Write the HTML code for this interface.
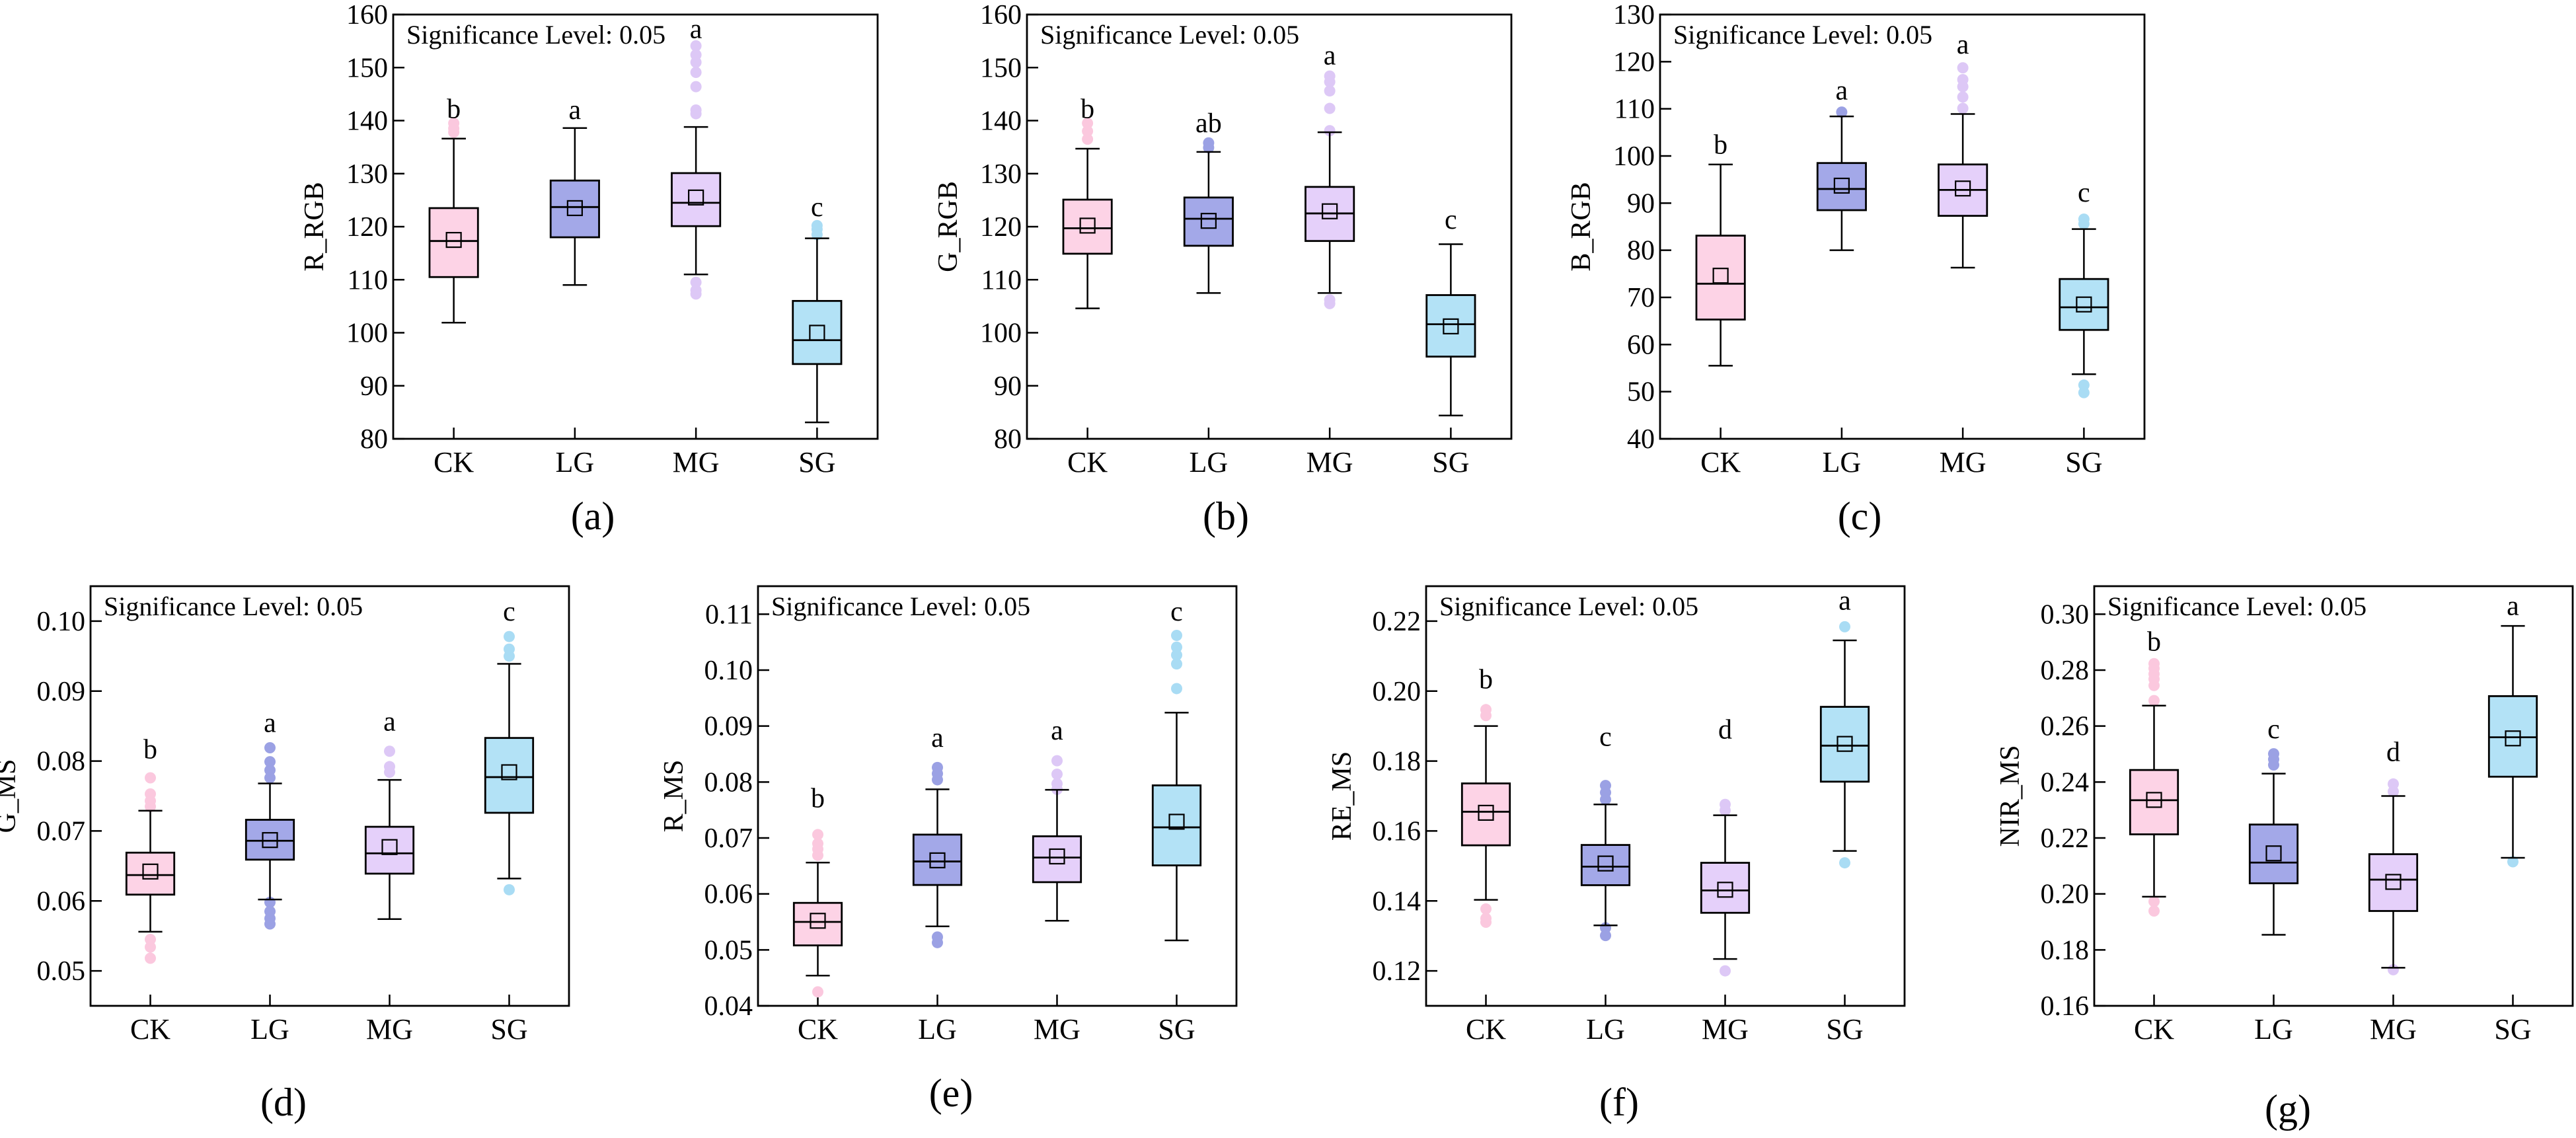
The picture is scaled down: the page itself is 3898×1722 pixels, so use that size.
<!DOCTYPE html>
<html><head><meta charset="utf-8"><style>
html,body{margin:0;padding:0;background:#fff;}
svg{display:block;font-family:"Liberation Serif",serif;}
</style></head><body>
<svg id="fig" width="3898" height="1722" viewBox="0 0 3898 1722" xmlns="http://www.w3.org/2000/svg"></svg>
<script>
const categories = ["CK","LG","MG","SG"];
// Panel a: R_RGB
const a_high=[136.6,138.6,138.8,117.8], a_q3=[123.5,128.7,130.1,106], a_med=[117.3,123.7,124.5,98.6], a_q1=[110.5,118,120.1,94.1], a_low=[101.9,109,111,83.1], a_mean=[117.5,123.5,125.5,100];
const a_out=[[139.5,138.5,137.8],[],[154.1,152.4,151,149.1,146.4,142,141.3,109.5,108,107.3],[120.2,119.5,118.5]];
const a_let=["b","a","a","c"], a_letY=[142,141.8,157.1,123.5];
// Panel b: G_RGB
const b_high=[134.7,134.1,137.8,116.7], b_q3=[125.1,125.5,127.5,107.1], b_med=[119.7,121.5,122.5,101.6], b_q1=[114.9,116.4,117.3,95.5], b_low=[104.6,107.5,107.5,84.4], b_mean=[120.2,121.1,122.9,101.2];
const b_out=[[139.5,138,136.5],[135.8,134.9],[148.4,147.3,145.6,142.3,138.1,106.2,105.5],[]];
const b_let=["b","ab","a","c"], b_letY=[142,139.3,152.1,121.1];
// Panel c: B_RGB
const c_high=[98.2,108.4,108.9,84.5], c_q3=[83.1,98.5,98.2,73.9], c_med=[72.9,93,92.8,67.9], c_q1=[65.3,88.5,87.3,63.1], c_low=[55.5,80,76.3,53.7], c_mean=[74.6,93.7,93.1,68.5];
const c_out=[[],[109.3],[118.7,116.2,114.7,112.5,110.1],[86.6,85.6,51.4,49.8]];
const c_let=["b","a","a","c"], c_letY=[102.2,113.7,123.4,92];
// Panel d: G_MS
const d_high=[0.0729,0.0768,0.0773,0.0939], d_q3=[0.0669,0.0716,0.0706,0.0833], d_med=[0.0637,0.0686,0.0668,0.0777], d_q1=[0.0609,0.0659,0.0639,0.0726], d_low=[0.0556,0.0602,0.0574,0.0632], d_mean=[0.0642,0.0687,0.0677,0.0784];
const d_out=[[0.0776,0.0753,0.0743,0.0735,0.0545,0.0534,0.0518],[0.0819,0.0799,0.0787,0.0776,0.0598,0.0585,0.0575,0.0567],[0.0814,0.0792,0.0784],[0.0978,0.096,0.095,0.0616]];
const d_let=["b","a","a","c"], d_letY=[0.0815,0.0853,0.0855,0.1012];
// Panel e: R_MS
const e_high=[0.0656,0.0787,0.0786,0.0924], e_q3=[0.0584,0.0706,0.0703,0.0794], e_med=[0.055,0.0658,0.0665,0.0719], e_q1=[0.0508,0.0616,0.0621,0.0651], e_low=[0.0454,0.0542,0.0552,0.0517], e_mean=[0.0552,0.066,0.0667,0.0729];
const e_out=[[0.0706,0.069,0.068,0.0669,0.0425],[0.0826,0.0815,0.0804,0.0523,0.0513],[0.0838,0.0814,0.0797,0.0787],[0.1062,0.1041,0.1027,0.1011,0.0967]];
const e_let=["b","a","a","c"], e_letY=[0.0769,0.0877,0.089,0.1103];
// Panel f: RE_MS
const f_high=[0.19,0.1676,0.1645,0.2145], f_q3=[0.1736,0.156,0.1509,0.1955], f_med=[0.1655,0.1498,0.143,0.1844], f_q1=[0.1559,0.1445,0.1366,0.1741], f_low=[0.1403,0.133,0.1234,0.1543], f_mean=[0.1652,0.1507,0.1432,0.1849];
const f_out=[[0.1947,0.193,0.1377,0.135,0.1339],[0.173,0.171,0.169,0.1323,0.1301],[0.1676,0.1659,0.12],[0.2184,0.1509]];
const f_let=["b","c","d","a"], f_letY=[0.2031,0.1866,0.1887,0.2256];
// Panel g: NIR_MS
const g_high=[0.2673,0.243,0.235,0.2958], g_q3=[0.2443,0.2248,0.2142,0.2707], g_med=[0.2335,0.2112,0.2051,0.256], g_q1=[0.2213,0.2038,0.1939,0.2419], g_low=[0.199,0.1854,0.1736,0.2129], g_mean=[0.2336,0.2145,0.2043,0.2556];
const g_out=[[0.2823,0.2806,0.2786,0.2768,0.2745,0.2691,0.1973,0.1939],[0.2501,0.2481,0.2461],[0.2393,0.2366,0.1729],[0.2115]];
const g_let=["b","c","d","a"], g_letY=[0.2898,0.2585,0.2504,0.3026];
// Axis tick labels
const a_ticks=["80","90","100","110","120","130","140","150","160"];
const b_ticks=["80","90","100","110","120","130","140","150","160"];
const c_ticks=["40","50","60","70","80","90","100","110","120","130"];
const d_ticks=["0.05","0.06","0.07","0.08","0.09","0.10"];
const e_ticks=["0.04","0.05","0.06","0.07","0.08","0.09","0.10","0.11"];
const f_ticks=["0.12","0.14","0.16","0.18","0.20","0.22"];
const g_ticks=["0.16","0.18","0.20","0.22","0.24","0.26","0.28","0.30"];

const NS="http://www.w3.org/2000/svg";
const svg=document.getElementById("fig");
const FILL=["#fdd3e6","#a3a8e8","#e5d0fa","#b3e2f6"];
const DOT=["#fbc8de","#9ba1e4","#ddc8f6","#a9dcf4"];
function mk(tag,attrs,parent){const e=document.createElementNS(NS,tag);for(const k in attrs)e.setAttribute(k,attrs[k]);(parent||svg).appendChild(e);return e;}

function panel(id,cfg,D){
  const g=mk("g",{});
  
  
  const {x0,y0,w,h,ymin,ymax}=cfg;
  const sy=v=>y0+h-(v-ymin)/(ymax-ymin)*h;
  const step=w/categories.length;
  const sx=i=>x0+step*(i+0.5);
  const bw=step*0.4, cw=step*0.2;
  const fr=mk("rect",{x:x0,y:y0,width:w,height:h,fill:"none",stroke:"#000","stroke-width":2.8},g);
  
  
  D.ticks.forEach(t=>{
    const v=parseFloat(t), y=sy(v);
    const tk=mk("line",{x1:x0,x2:x0+17,y1:y,y2:y,stroke:"#000","stroke-width":2.5},g);
    
    
    const tl=mk("text",{x:x0-8,y:y+14,"text-anchor":"end","font-size":42},g);
    tl.textContent=t;
    
    
  });
  const yt=mk("text",{x:0,y:0,"text-anchor":"middle","font-size":42,transform:`translate(${x0-cfg.tOff},${y0+h/2}) rotate(-90)`},g);
  yt.textContent=cfg.title;
  
  
  const st=mk("text",{x:x0+20,y:y0+cfg.sigY,"font-size":40},g);
  st.textContent="Significance Level: 0.05";
  
  
  categories.forEach((c,i)=>{
    const cx=sx(i);
    const xt=mk("line",{x1:cx,x2:cx,y1:y0+h,y2:y0+h-17,stroke:"#000","stroke-width":2.5},g);
    
    
    const xl=mk("text",{x:cx,y:y0+h+50,"text-anchor":"middle","font-size":44},g);
    xl.textContent=c;
    
    
    D.out[i].forEach(v=>{
      const o=mk("circle",{cx:cx,cy:sy(v),r:8.5,fill:DOT[i]},g);
      
      
    });
    const wk=mk("path",{d:`M${cx},${sy(D.high[i])}V${sy(D.q3[i])}M${cx},${sy(D.q1[i])}V${sy(D.low[i])}M${cx-cw/2},${sy(D.high[i])}H${cx+cw/2}M${cx-cw/2},${sy(D.low[i])}H${cx+cw/2}`,stroke:"#000","stroke-width":2.5,fill:"none"},g);
    
    
    const bx=mk("rect",{x:cx-bw/2,y:sy(D.q3[i]),width:bw,height:sy(D.q1[i])-sy(D.q3[i]),fill:FILL[i],stroke:"#000","stroke-width":2.8},g);
    
    
    const md=mk("line",{x1:cx-bw/2,x2:cx+bw/2,y1:sy(D.med[i]),y2:sy(D.med[i]),stroke:"#000","stroke-width":2.8},g);
    
    
    const mn=mk("rect",{x:cx-11,y:sy(D.mean[i])-11,width:22,height:22,fill:"none",stroke:"#000","stroke-width":2.2},g);
    
    
    const lt=mk("text",{x:cx,y:sy(D.letY[i])+12,"text-anchor":"middle","font-size":42},g);
    lt.textContent=D.let[i];
    
    
  });
  const pl=mk("text",{x:cfg.lx,y:cfg.ly+20,"text-anchor":"middle","font-size":60},g);
  pl.textContent="("+id+")";
  
  
}
const TOP={y0:22,h:642,w:733,sigY:44,tOff:106};
const BOT={y0:887,h:635,w:724,sigY:44,tOff:114};
panel("a",{...TOP,x0:595,ymin:80,ymax:160,title:"R_RGB",lx:897,ly:781},{high:a_high,q3:a_q3,med:a_med,q1:a_q1,low:a_low,mean:a_mean,out:a_out,let:a_let,letY:a_letY,ticks:a_ticks});
panel("b",{...TOP,x0:1554,ymin:80,ymax:160,title:"G_RGB",lx:1855,ly:781},{high:b_high,q3:b_q3,med:b_med,q1:b_q1,low:b_low,mean:b_mean,out:b_out,let:b_let,letY:b_letY,ticks:b_ticks});
panel("c",{...TOP,x0:2512,ymin:40,ymax:130,title:"B_RGB",lx:2814,ly:781},{high:c_high,q3:c_q3,med:c_med,q1:c_q1,low:c_low,mean:c_mean,out:c_out,let:c_let,letY:c_letY,ticks:c_ticks});
panel("d",{...BOT,x0:137,ymin:0.045,ymax:0.105,title:"G_MS",lx:429,ly:1668},{high:d_high,q3:d_q3,med:d_med,q1:d_q1,low:d_low,mean:d_mean,out:d_out,let:d_let,letY:d_letY,ticks:d_ticks});
panel("e",{...BOT,x0:1147,ymin:0.04,ymax:0.115,title:"R_MS",lx:1439,ly:1654},{high:e_high,q3:e_q3,med:e_med,q1:e_q1,low:e_low,mean:e_mean,out:e_out,let:e_let,letY:e_letY,ticks:e_ticks});
panel("f",{...BOT,x0:2158,ymin:0.11,ymax:0.23,title:"RE_MS",lx:2450,ly:1668},{high:f_high,q3:f_q3,med:f_med,q1:f_q1,low:f_low,mean:f_mean,out:f_out,let:f_let,letY:f_letY,ticks:f_ticks});
panel("g",{...BOT,x0:3169,ymin:0.16,ymax:0.31,title:"NIR_MS",lx:3462,ly:1678},{high:g_high,q3:g_q3,med:g_med,q1:g_q1,low:g_low,mean:g_mean,out:g_out,let:g_let,letY:g_letY,ticks:g_ticks});
</script>
</body></html>
